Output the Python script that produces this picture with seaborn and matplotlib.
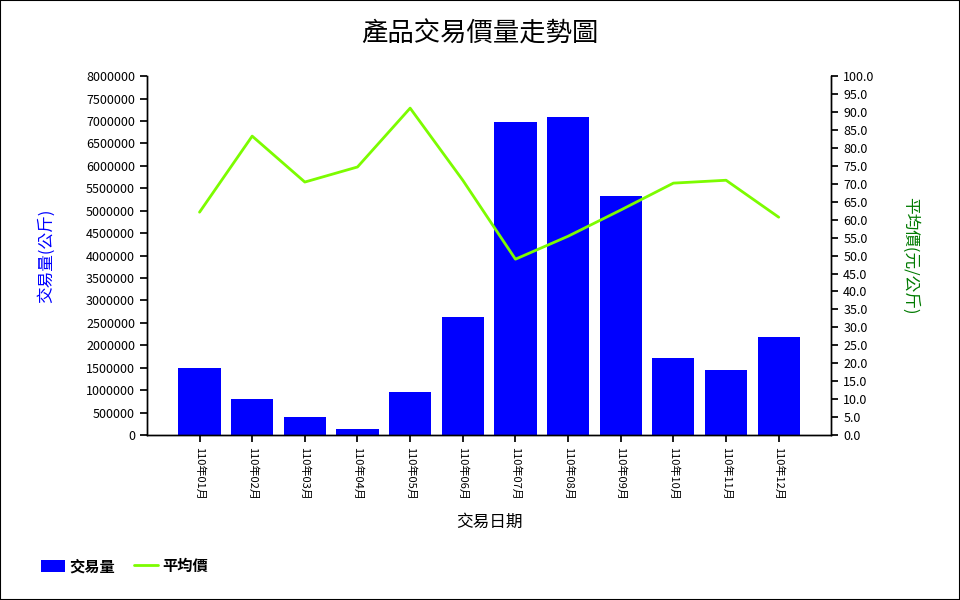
import matplotlib
matplotlib.use("Agg")
import matplotlib.pyplot as plt
import seaborn as sns
import pandas as pd
from matplotlib.lines import Line2D
from matplotlib.patches import Patch, Rectangle
from matplotlib.ticker import MultipleLocator, FuncFormatter

months = ["110年01月", "110年02月", "110年03月", "110年04月", "110年05月", "110年06月",
          "110年07月", "110年08月", "110年09月", "110年10月", "110年11月", "110年12月"]
volume = [1490000, 800000, 400000, 130000, 960000, 2630000,
          6970000, 7080000, 5320000, 1710000, 1450000, 2180000]
price = [62.1, 83.3, 70.5, 74.7, 91.1, 71.0, 49.0, 55.4, 62.7, 70.2, 71.0, 60.7]

sns.set_theme(style="white")
plt.rcParams['font.family'] = ['Noto Sans CJK TC', 'DejaVu Sans']
plt.rcParams['text.color'] = 'black'
plt.rcParams['axes.labelcolor'] = 'black'
plt.rcParams['xtick.color'] = 'black'
plt.rcParams['ytick.color'] = 'black'

df = pd.DataFrame({"month": months, "volume": volume, "price": price,
                   "pos": list(range(len(months)))})

fig = plt.figure(figsize=(9.6, 6), dpi=100)
ax = fig.add_axes([0.153, 0.275, 0.713, 0.598])

sns.barplot(data=df, x="month", y="volume", color="#0000FF", saturation=1,
            width=0.8, ax=ax, edgecolor="none")
ax.set_xlim(-1, len(months))
ax.set_ylim(0, 8000000)
ax.yaxis.set_major_locator(MultipleLocator(500000))
ax.yaxis.set_major_formatter(FuncFormatter(lambda v, p: f"{int(round(v))}"))
ax.set_xlabel("交易日期", fontsize=12, labelpad=10)
ax.set_ylabel("交易量(公斤)", fontsize=12, color="#0000FF", labelpad=22)
ax.tick_params(axis="x", labelsize=8, length=5, direction="out", bottom=True)
ax.tick_params(axis="y", labelsize=9, length=5, direction="out", left=True)
for lab in ax.get_xticklabels():
    lab.set_rotation(-90)

ax2 = ax.twinx()
sns.lineplot(data=df, x="pos", y="price", color="#7CFC00", linewidth=2, ax=ax2)
ax2.set_ylim(0, 100)
ax2.yaxis.set_major_locator(MultipleLocator(5))
ax2.yaxis.set_major_formatter(FuncFormatter(lambda v, p: f"{v:.1f}"))
ax2.tick_params(axis="y", labelsize=9, length=5, direction="out", right=True)
ax2.set_ylabel("平均價(元/公斤)", fontsize=12, color="#007A00", rotation=270, labelpad=32)
ax2.set_xlim(-1, len(months))
ax2.set_xlabel("")

for a in (ax, ax2):
    a.spines["top"].set_visible(False)
    for s in ("left", "right", "bottom"):
        a.spines[s].set_color("black")
        a.spines[s].set_linewidth(1)

fig.suptitle("產品交易價量走勢圖", fontsize=19, y=0.965, color="black")

handles = [Patch(facecolor="#0000FF", edgecolor="none", label="交易量"),
           Line2D([0], [0], color="#7CFC00", linewidth=2, label="平均價")]
leg = fig.legend(handles=handles, loc="lower left", bbox_to_anchor=(0.028, 0.02),
                 ncol=2, frameon=False, prop={"weight": "bold", "size": 11},
                 handlelength=1.6, handleheight=0.9, columnspacing=1.2, handletextpad=0.3)

fig.patches.append(Rectangle((0, 0), 1, 1, transform=fig.transFigure,
                             fill=False, edgecolor="black", linewidth=1.5))

fig.savefig("out.png", dpi=100)
